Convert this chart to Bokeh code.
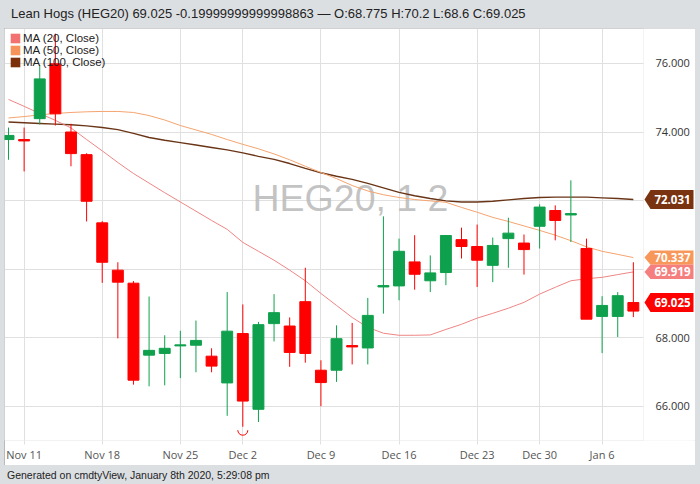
from bokeh.plotting import figure
from bokeh.models import (Range1d, FixedTicker, Legend, LegendItem, BoxAnnotation, Div)
from bokeh.layouts import column
from bokeh.core.properties import value
from bokeh.embed import file_html
from bokeh.resources import INLINE
import math

# ---------------- data ----------------
dates = ["Nov 8", "Nov 11", "Nov 12", "Nov 13", "Nov 14", "Nov 15",
         "Nov 18", "Nov 19", "Nov 20", "Nov 21", "Nov 22",
         "Nov 25", "Nov 26", "Nov 27", "Nov 29",
         "Dec 2", "Dec 3", "Dec 4", "Dec 5", "Dec 6",
         "Dec 9", "Dec 10", "Dec 11", "Dec 12", "Dec 13",
         "Dec 16", "Dec 17", "Dec 18", "Dec 19", "Dec 20",
         "Dec 23", "Dec 24", "Dec 26", "Dec 27",
         "Dec 30", "Dec 31", "Jan 2", "Jan 3",
         "Jan 6", "Jan 7", "Jan 8"]
tick_labels = ["Nov 11", "Nov 18", "Nov 25", "Dec 2", "Dec 9", "Dec 16", "Dec 23", "Dec 30", "Jan 6"]

open_ = [73.78, 73.78, 74.39, 75.99, 74.00, 73.34, 71.35, 69.97, 69.59, 67.49, 67.54,
         67.76, 67.78, 67.46, 66.68, 68.12, 65.91, 68.41, 68.34, 69.05, 67.05,
         67.05, 67.77, 67.70, 69.48, 69.51, 70.21, 69.66, 69.90, 70.86, 70.66,
         70.11, 70.89, 70.76, 71.25, 71.71, 71.58, 70.60, 68.62, 68.62, 68.775]
high = [74.13, 74.13, 75.95, 76.87, 74.24, 73.38, 71.40, 70.20, 69.65, 69.20, 68.07,
        68.20, 68.50, 67.69, 69.33, 68.97, 68.46, 69.27, 68.59, 70.04, 67.34,
        68.36, 68.43, 69.16, 71.54, 70.89, 70.99, 70.40, 70.99, 71.21, 71.30,
        70.92, 71.50, 71.01, 71.89, 71.86, 72.59, 70.89, 69.21, 69.33, 70.20]
low = [73.19, 72.85, 74.22, 74.19, 73.00, 71.39, 69.60, 67.98, 66.63, 66.58, 66.61,
       66.82, 66.99, 66.99, 65.72, 65.40, 65.54, 67.89, 67.15, 67.27, 66.00,
       66.71, 67.22, 67.22, 68.70, 69.09, 69.40, 69.33, 69.53, 70.31, 69.48,
       69.62, 70.04, 69.84, 70.60, 70.84, 70.79, 68.54, 67.55, 68.02, 68.60]
close = [73.90, 73.74, 75.55, 74.53, 73.37, 71.98, 70.20, 69.62, 66.76, 67.63, 67.69,
         67.79, 67.92, 67.17, 68.19, 66.15, 68.38, 68.73, 67.57, 67.54, 66.69,
         67.97, 67.73, 68.65, 69.52, 70.52, 69.85, 69.89, 70.98, 70.66, 70.26,
         70.69, 71.05, 70.57, 71.81, 71.42, 71.62, 68.54, 68.94, 69.225, 69.025]

ma20 = [74.95, 74.75, 74.54, 74.34, 74.12, 73.78, 73.45, 73.11, 72.79, 72.51, 72.23,
        71.96, 71.69, 71.42, 71.16, 70.78, 70.52, 70.26, 69.97, 69.66, 69.29,
        68.94, 68.59, 68.30, 68.13, 68.07, 68.07, 68.08, 68.24, 68.39, 68.57,
        68.71, 68.86, 69.03, 69.27, 69.47, 69.66, 69.72, 69.76, 69.84, 69.919]
ma50 = [74.41, 74.45, 74.50, 74.54, 74.57, 74.59, 74.60, 74.60, 74.57, 74.48, 74.35,
        74.19, 74.06, 73.93, 73.78, 73.64, 73.51, 73.36, 73.19, 73.00, 72.82,
        72.64, 72.44, 72.28, 72.17, 72.09, 72.03, 71.99, 71.95, 71.80, 71.66,
        71.51, 71.39, 71.26, 71.13, 70.99, 70.83, 70.65, 70.52, 70.43, 70.337]
ma100 = [74.29, 74.27, 74.25, 74.23, 74.21, 74.18, 74.13, 74.07, 73.96, 73.84, 73.76,
         73.69, 73.62, 73.55, 73.48, 73.39, 73.29, 73.20, 73.08, 72.94, 72.81,
         72.71, 72.62, 72.50, 72.37, 72.24, 72.14, 72.06, 71.99, 71.96, 71.96,
         71.98, 72.02, 72.06, 72.09, 72.10, 72.10, 72.10, 72.08, 72.06, 72.031]

y_ticks = [66, 68, 70, 72, 74, 76]
hidden_y_labels = [70, 72]
low_mark_date = "Dec 2"

title_text = "Lean Hogs (HEG20) 69.025 -0.19999999999998863 \u2014 O:68.775 H:70.2 L:68.6 C:69.025"
footer_text = "Generated on cmdtyView, January 8th 2020, 5:29:08 pm"
watermark = "HEG20, 1 2"

# ---------------- styles ----------------
GREEN = "#0fa04d"
RED = "#ff0000"
C20, C50, C100 = "#ef8585", "#f5a46f", "#6a3517"
B20, B50, B100 = "#f57f7f", "#f8975a", "#7a3310"
SQ20, SQ50, SQ100 = "#f27171", "#f5935a", "#7b2f0b"
GRID = "#e0e0e0"
BG = "#dcdfe2"

W, H = 691, 437
PLOT_W = 639          # pixel width of the price area (rest is the price-label column)
BB = 25
X0, X1 = -0.256, 40.65
Y0, Y1 = 65.0, 77.02
fh = H - BB
sx = PLOT_W / (X1 - X0)
sy = fh / (Y1 - Y0)
XR = X0 + W / sx

xs = list(range(len(dates)))
prev = [open_[0]] + close[:-1]
colors = [GREEN if c >= pv else RED for c, pv in zip(close, prev)]
tops = [max(o, c) for o, c in zip(open_, close)]
bots = [min(o, c) for o, c in zip(open_, close)]

p = figure(width=W, height=H, x_range=Range1d(X0, XR), y_range=Range1d(Y0, Y1),
           output_backend="svg", toolbar_location=None, y_axis_location=None,
           min_border_left=0, min_border_right=0, min_border_top=0, min_border_bottom=BB,
           margin=(0, 0, 0, 4))
p.background_fill_color = "white"
p.border_fill_color = "white"
p.outline_line_color = None
p.styles = {"outline": "1px solid #a3a3a3", "outline-offset": "-1px"}

# watermark
p.text(x=[X0 + 346 / sx], y=[Y0 + (Y1 - Y0) * 0.5525 + 0.42], text=[watermark],
       text_font=value("Liberation Sans"), text_font_size="37.5px", text_color="#b9b9b9",
       text_alpha=0.85, text_align="center", text_baseline="alphabetic")

# grids
p.xgrid.ticker = FixedTicker(ticks=[dates.index(t) for t in tick_labels])
p.ygrid.ticker = FixedTicker(ticks=y_ticks)
p.xgrid.grid_line_color = GRID
p.ygrid.grid_line_color = GRID

# x axis
xa = p.xaxis[0]
xa.ticker = FixedTicker(ticks=[dates.index(t) for t in tick_labels])
xa.major_label_overrides = {dates.index(t): t for t in tick_labels}
xa.axis_line_color = None
xa.major_tick_line_color = GRID
xa.major_tick_out = 4
xa.major_tick_in = 0
xa.minor_tick_line_color = None
xa.major_label_text_font = "Open Sans"
xa.major_label_text_font_size = "11px"
xa.major_label_text_color = "#555555"
xa.major_label_standoff = 2

# moving averages
p.line(xs, ma100, line_color=C100, line_width=1.4)
p.line(xs, ma50, line_color=C50, line_width=1)
p.line(xs, ma20, line_color=C20, line_width=1)

# candles
p.segment(x0=xs, y0=low, x1=xs, y1=high, line_color=colors, line_width=1)
p.vbar(x=xs, width=0.7, top=tops, bottom=bots, fill_color=colors, line_color=colors, line_width=1)

# low marker arc
mi = dates.index(low_mark_date)
p.arc(x=[mi], y=[low[mi] - 0.1], radius=5, radius_units="screen",
      start_angle=math.pi, end_angle=2 * math.pi, direction="anticlock",
      line_color=RED, line_width=1)

# white price-label column and plot-area outline
p.add_layout(BoxAnnotation(left=X1, fill_color="white", fill_alpha=1, line_color=None))
p.add_layout(BoxAnnotation(left=X0, right=X1, bottom=Y0, top=Y1, fill_alpha=0,
                           line_color="#d6d6d6", line_width=1))

# price tick labels in the right column
shown = [v for v in y_ticks if v not in hidden_y_labels]
p.text(x=[X1 + 12 / sx] * len(shown), y=shown, text=[f"{v:.3f}" for v in shown],
       text_font=value("Open Sans"), text_font_size="11px", text_color="#333333",
       text_align="left", text_baseline="middle", level="overlay")

# price badges
badges = [(ma100[-1], B100), (ma50[-1], B50), (ma20[-1], B20), (close[-1], RED)]
vals = [b[0] for b in badges]
bxs, bys, bcols = [], [], []
for k, (v, col) in enumerate(badges):
    hp = 9.5
    for j, v2 in enumerate(vals):
        if j != k:
            hp = min(hp, abs(v - v2) * sy / 2)
    h = hp / sy
    xt = X1 + 1 / sx
    xb = X1 + 7 / sx
    xr = X1 + 50 / sx
    bxs.append([xt, xb, xr, xr, xb])
    bys.append([v, v + h, v + h, v - h, v - h])
    bcols.append(col)
p.patches(xs=bxs, ys=bys, fill_color=bcols, line_color=None, level="overlay")
p.text(x=[X1 + 29 / sx] * len(vals), y=vals, text=[f"{v:.3f}" for v in vals],
       text_font=value("Open Sans"), text_font_size="11.5px", text_font_style="bold",
       text_color="white", text_align="center", text_baseline="middle", level="overlay")

# legend with square swatches (degenerate quads, only the swatches are visible)
r20 = p.quad(left=[X0], right=[X0], top=[Y0], bottom=[Y0], fill_color=SQ20, line_color=None)
r50 = p.quad(left=[X0], right=[X0], top=[Y0], bottom=[Y0], fill_color=SQ50, line_color=None)
r100 = p.quad(left=[X0], right=[X0], top=[Y0], bottom=[Y0], fill_color=SQ100, line_color=None)
leg = Legend(items=[LegendItem(label="MA (20, Close)", renderers=[r20]),
                    LegendItem(label="MA (50, Close)", renderers=[r50]),
                    LegendItem(label="MA (100, Close)", renderers=[r100])],
             location=(5, fh - 36 - 4))
leg.background_fill_alpha = 0
leg.border_line_color = None
leg.label_text_font = "Liberation Sans"
leg.label_text_font_size = "11.5px"
leg.label_text_color = "#222222"
leg.glyph_width = 12
leg.glyph_height = 12
leg.label_height = 12
leg.spacing = 0
leg.padding = 0
leg.margin = 0
leg.label_standoff = 2
p.add_layout(leg)

title_div = Div(text=title_text, width=700, height=18,
                styles={"font-family": "Liberation Sans, Arial, sans-serif", "font-size": "13px",
                        "color": "#222222", "padding-left": "6px", "line-height": "18px",
                        "white-space": "nowrap"})
footer_div = Div(text=footer_text, width=700, height=19,
                 styles={"font-family": "Liberation Sans, Arial, sans-serif", "font-size": "10.5px",
                         "color": "#222222", "padding-left": "2px", "line-height": "10px",
                         "white-space": "nowrap"})

layout = column(title_div, p, footer_div)
html = file_html(layout, INLINE)
html = html.replace("</head>",
                    "<style>html,body{margin:0;padding:0;background:%s;overflow:hidden;}</style></head>" % BG, 1)
open("out.html", "w").write(html)
